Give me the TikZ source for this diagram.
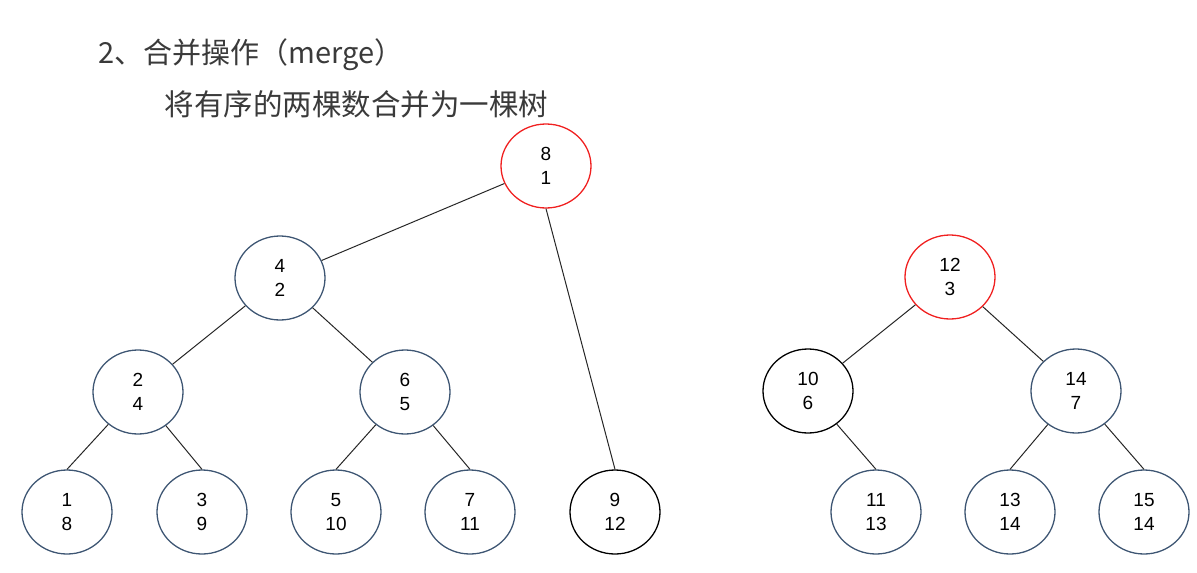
\documentclass[tikz,border=0pt]{standalone}
\usepackage{fontspec}
\setmainfont{Liberation Sans}
\newfontfamily\cjk{Noto Sans CJK SC}
\usetikzlibrary{shapes.geometric}
\definecolor{ringblue}{HTML}{3E5673}
\definecolor{ringred}{HTML}{F02020}
\definecolor{titlegray}{HTML}{3A3A3A}

\begin{document}
\begin{tikzpicture}[x=1pt, y=-1pt,
    heap/.style={ellipse, draw=ringblue, line width=1.3pt, minimum width=90pt, minimum height=84pt,
                 inner sep=0pt, align=center, font=\fontsize{19}{24}\selectfont},
    heapblack/.style={heap, draw=black},
    heapred/.style={heap, draw=ringred},
    edge/.style={draw=black!85, line width=1pt}]
            \useasboundingbox (0,0) rectangle (1197,573);
            \node[anchor=base west, text=titlegray, font=\cjk\fontsize{29}{34}\selectfont] (title) at (95,63) {2、合并操作（merge）};
            \node[anchor=base west, text=titlegray, font=\cjk\fontsize{29.5}{34}\selectfont] (subtitle) at (161,115) {将有序的两棵数合并为一棵树};

            % merged tree
            \node[heapred]   (r81)   at (546,166) {8\\1};
            \node[heap]      (n42)   at (280,278) {4\\2};
            \node[heap]      (n24)   at (138,392) {2\\4};
            \node[heap]      (n65)   at (405,392) {6\\5};
            \node[heap]      (n18)   at (67,512)  {1\\8};
            \node[heap]      (n39)   at (202,512) {3\\9};
            \node[heap]      (n510)  at (336,512) {5\\10};
            \node[heap]      (n711)  at (470,512) {7\\11};
            \node[heapblack] (n912)  at (615,512) {9\\12};

            % second tree
            \node[heapred]   (r123)  at (950,277)  {12\\3};
            \node[heapblack] (n106)  at (808,391)  {10\\6};
            \node[heap]      (n147)  at (1076,391) {14\\7};
            \node[heap]      (n1113) at (876,512)  {11\\13};
            \node[heap]      (n1314) at (1010,512) {13\\14};
            \node[heap]      (n1514) at (1144,512) {15\\14};

            \draw[edge] (r81) -- (n42);
            \draw[edge] (r81.south) -- (n912.north);
            \draw[edge] (n42) -- (n24);
            \draw[edge] (n42) -- (n65);
            \draw[edge] (n24) -- (n18.north);
            \draw[edge] (n24) -- (n39.north);
            \draw[edge] (n65) -- (n510.north);
            \draw[edge] (n65) -- (n711.north);

            \draw[edge] (r123) -- (n106);
            \draw[edge] (r123) -- (n147);
            \draw[edge] (n106) -- (n1113.north);
            \draw[edge] (n147) -- (n1314.north);
            \draw[edge] (n147) -- (n1514.north);
        \end{tikzpicture}
\end{document}
